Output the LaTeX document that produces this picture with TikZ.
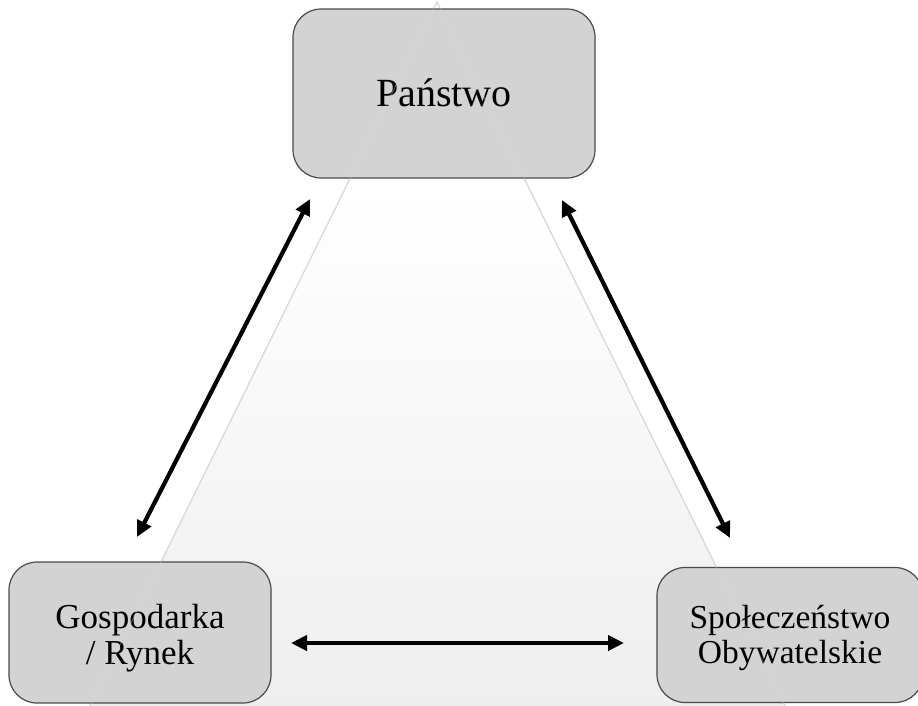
\documentclass[tikz,border=0pt]{standalone}
\usepackage{fontspec}
\setmainfont{Liberation Serif}
\usetikzlibrary{arrows.meta}
\definecolor{boxfill}{HTML}{D3D3D3}
\definecolor{boxline}{HTML}{4A4A4A}
\definecolor{triedge}{HTML}{D8D8D8}
\definecolor{tribot}{HTML}{E3E3E3}
\pgfdeclareverticalshading{trishade}{100bp}{color(0bp)=(tribot); color(62bp)=(white); color(100bp)=(white)}
\begin{document}
\begin{tikzpicture}[x=1pt,y=-1pt,
  box/.style={draw=boxline, line width=1.2pt, fill=boxfill, rounded corners=28pt, inner sep=0pt},
  boxtext/.style={align=center, inner sep=0pt},
  link/.style={{Triangle[length=16pt,width=15pt]}-{Triangle[length=16pt,width=15pt]}, line width=4.2pt},
]
\useasboundingbox (0,0) rectangle (918,705);

% background triangle
\coordinate (apex) at (437,2);
\coordinate (baseR) at (786,708);
\coordinate (baseL) at (89,708);
\shade[shading=trishade] (apex) -- (baseR) -- (baseL) -- cycle;
\draw[triedge, line width=1.2pt] (baseL) -- (apex) -- (baseR);

% boxes
\node[box, minimum width=302pt, minimum height=169pt] (state) at (444,93.5) {};
\node[boxtext, font=\fontsize{40}{44}\selectfont] (statetext) at (444,93) {Państwo};

\node[box, minimum width=262pt, minimum height=141pt] (market) at (140,632.5) {};
\node[boxtext, font=\fontsize{35}{36}\selectfont] (markettext) at (140,638) {Gospodarka\\/ Rynek};

\node[box, minimum width=266pt, minimum height=135pt] (society) at (790,635) {};
\node[boxtext, font=\fontsize{33.5}{35}\selectfont] (societytext) at (790,638) {Społeczeństwo\\Obywatelskie};

% faint triangle edges seen through the boxes
\draw[triedge, line width=1pt, opacity=0.35] (baseL) -- (apex) -- (baseR);

% connectors
\coordinate (m1) at (137,537);
\coordinate (s1) at (310,199);
\coordinate (s2) at (562,200);
\coordinate (c1) at (730,538);
\coordinate (m2) at (291,643);
\coordinate (c2) at (624,643);
\draw[link] (m1) -- (s1);
\draw[link] (s2) -- (c1);
\draw[link] (m2) -- (c2);
\end{tikzpicture}
\end{document}
